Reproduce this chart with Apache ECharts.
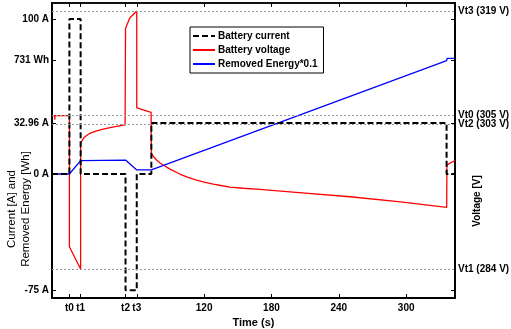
<!DOCTYPE html>
<html><head><meta charset="utf-8">
<script src="https://cdn.jsdelivr.net/npm/echarts@6/dist/echarts.min.js"></script>
<style>html,body{margin:0;padding:0;background:#fff}#c{width:511px;height:329px}</style>
</head><body><div id="c"></div>
<script>
// Battery current [A]
const currentT = [-15.5, 0, 0, 10, 10, 50, 50, 60, 60, 73, 73, 336, 336, 343.5];
const currentA = [0, 0, 100, 100, 0, 0, -75, -75, 0, 0, 32.96, 32.96, 0, 0];
// Battery voltage [V]
const voltT = [-15.5, -13, -13, -12.8, 0, 0, 10, 10, 13, 18.2, 25, 33, 42, 49.6, 50, 53.8, 60, 60, 72.8, 73, 75, 77.6, 80.5, 83.5, 90, 98.4, 105, 113.3, 120, 128.1, 135, 143, 155, 169.7, 210, 250, 295, 336.1, 336.3, 343.5];
const voltV = [304.85, 304.85, 304.3, 304.85, 304.85, 287.15, 284.14, 301.16, 301.9, 302.47, 302.85, 303.15, 303.4, 303.6, 316.66, 318.05, 319.0, 305.9, 305.3, 299.77, 299.3, 298.86, 298.5, 298.19, 297.6, 296.97, 296.55, 296.16, 295.88, 295.62, 295.42, 295.21, 295.05, 294.9, 294.4, 293.9, 293.2, 292.47, 298.2, 298.8];
// Removed energy [Wh] (plotted *0.1)
const energyT = [-15.5, 0, 10, 50, 60, 73, 336.1, 336.5, 343.5];
const energyWh = [0, 0, 86, 90, 26, 26, 731, 746, 746];
// Tick labels
const xTicks = [0, 10, 50, 60, 120, 180, 240, 300];
const xTickNames = {0: 't0', 10: 't1', 50: 't2', 60: 't3'};
const yTicks = [-75, 0, 32.96, 73.1, 100];
const yTickNames = {'-75': '-75 A', '0': '0 A', '32.96': '32.96 A', '73.1': '731 Wh', '100': '100 A'};
// Voltage thresholds
const vtNames = ['Vt3 (319 V)', 'Vt0 (305 V)', 'Vt2 (303 V)', 'Vt1 (284 V)'];
const vtValues = [319.0, 304.85, 303.7, 284.15];

const zip = (a, b, k) => a.map((t, i) => [t, b[i] * (k || 1)]);
const bold = {fontFamily: 'Liberation Sans, Arial, sans-serif', fontWeight: 'bold', fontSize: 10, color: '#000'};

const chart = echarts.init(document.getElementById('c'), null, {renderer: 'canvas'});
chart.setOption({
  animation: false,
  backgroundColor: '#fff',
  grid: {left: 52, right: 56, top: 3, bottom: 31, outerBoundsMode: 'none', containLabel: false, show: true, borderColor: '#000', borderWidth: 1.5, backgroundColor: 'transparent'},
  legend: {
    orient: 'vertical', left: 190, top: 27,
    itemWidth: 22, itemHeight: 10, itemGap: 4,
    padding: [4, 6, 4, 2],
    borderColor: '#000', borderWidth: 1, backgroundColor: '#fff',
    itemStyle: {opacity: 0},
    textStyle: Object.assign({}, bold, {padding: [0, 0, 0, -2]}),
    data: ['Battery current', 'Battery voltage', 'Removed Energy*0.1']
  },
  xAxis: [{
    type: 'value', min: -15.5, max: 343.5, position: 'bottom',
    name: 'Time (s)', nameLocation: 'middle', nameGap: 15,
    nameTextStyle: Object.assign({}, bold, {fontSize: 11}),
    axisLine: {show: true, onZero: false, lineStyle: {color: '#000', width: 2}},
    axisTick: {inside: true, length: 4, customValues: xTicks, lineStyle: {color: '#000', width: 1}},
    axisLabel: Object.assign({}, bold, {customValues: xTicks, margin: 5, formatter: v => xTickNames[v] || String(v)}),
    splitLine: {show: false}
  }, {
    type: 'value', min: -15.5, max: 343.5, position: 'top',
    axisLine: {show: true, onZero: false, lineStyle: {color: '#000', width: 1.5}},
    axisTick: {inside: true, length: 4, customValues: xTicks, lineStyle: {color: '#000', width: 1}},
    axisLabel: {show: false}, splitLine: {show: false}
  }],
  yAxis: [{
    type: 'value', min: -80, max: 110.32, position: 'left',
    axisLine: {show: true, onZero: false, lineStyle: {color: '#000', width: 2}},
    axisTick: {inside: true, length: 4, customValues: yTicks, lineStyle: {color: '#000', width: 1}},
    axisLabel: Object.assign({}, bold, {customValues: yTicks, margin: 3, formatter: v => yTickNames[String(v)] || ''}),
    splitLine: {show: false}
  }, {
    type: 'value', min: -80, max: 110.32, position: 'right',
    axisLine: {show: true, onZero: false, lineStyle: {color: '#000', width: 2}},
    axisTick: {inside: true, length: 4, customValues: yTicks, lineStyle: {color: '#000', width: 1}},
    axisLabel: {show: false}, splitLine: {show: false}
  }, {
    type: 'value', min: 280.22, max: 320.08, show: false, position: 'right'
  }],
  series: [{
    name: 'Battery current', type: 'line', xAxisIndex: 0, yAxisIndex: 0,
    data: zip(currentT, currentA), showSymbol: false, symbol: 'none', z: 4,
    color: '#000',
    lineStyle: {color: '#000', width: 2, type: [6, 3]}
  }, {
    name: 'Battery voltage', type: 'line', xAxisIndex: 0, yAxisIndex: 2,
    data: zip(voltT, voltV), showSymbol: false, symbol: 'none', z: 3,
    color: '#ff0000',
    lineStyle: {color: '#ff0000', width: 1.3},
    markLine: {
      silent: true, symbol: 'none', animation: false,
      lineStyle: {color: '#999', width: 1, type: [2, 2]},
      label: Object.assign({}, bold, {position: 'end', distance: 3, formatter: '{b}'}),
      emphasis: {disabled: true},
      data: vtNames.map((n, i) => ({name: n, yAxis: vtValues[i]}))
    }
  }, {
    name: 'Removed Energy*0.1', type: 'line', xAxisIndex: 0, yAxisIndex: 0,
    data: zip(energyT, energyWh, 0.1), showSymbol: false, symbol: 'none', z: 3,
    color: '#0000ff',
    lineStyle: {color: '#0000ff', width: 1.3}
  }],
  graphic: [{
    type: 'text', x: 19, y: 209, rotation: Math.PI / 2,
    style: {text: 'Current [A] and\nRemoved Energy [Wh]', font: '11.5px "Liberation Sans", Arial, sans-serif', fill: '#000', align: 'center', verticalAlign: 'middle', lineHeight: 14}
  }, {
    type: 'text', x: 477, y: 201, rotation: Math.PI / 2,
    style: {text: 'Voltage [V]', font: 'bold 10px "Liberation Sans", Arial, sans-serif', fill: '#000', align: 'center', verticalAlign: 'middle'}
  }]
});
</script></body></html>
